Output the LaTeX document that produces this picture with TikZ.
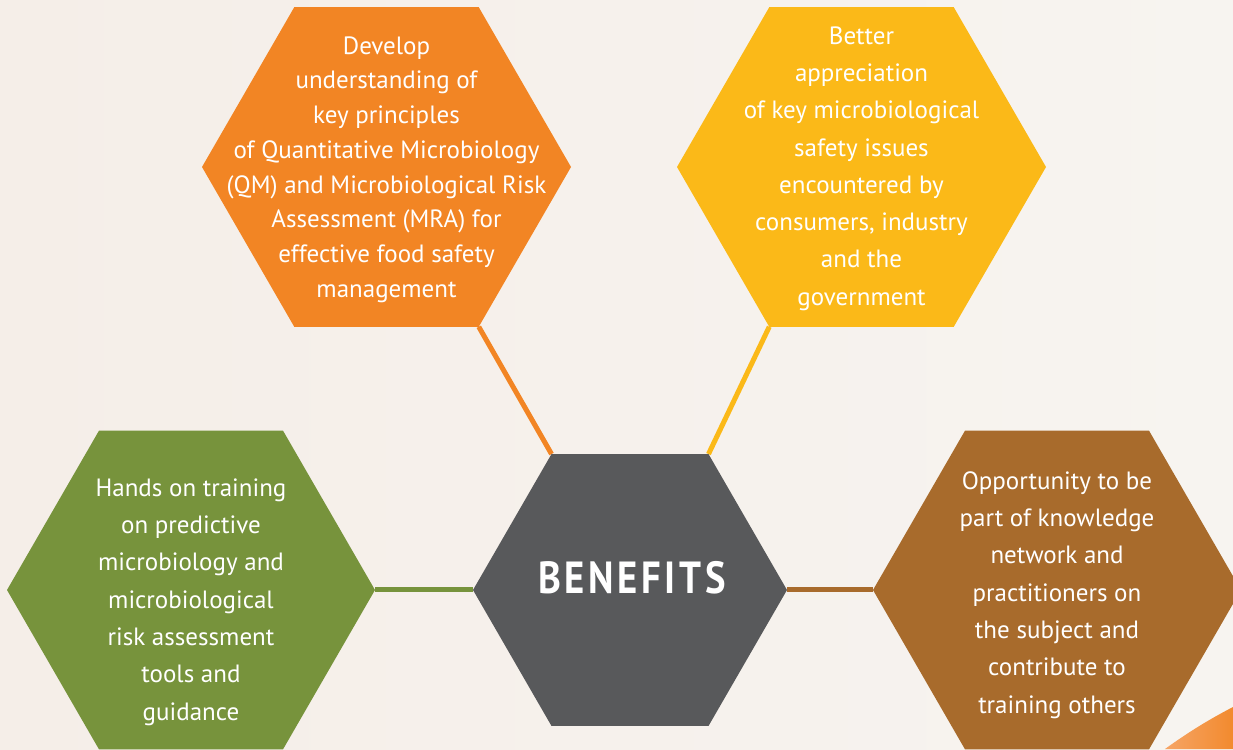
\documentclass[tikz,border=0pt]{standalone}
\usepackage{fontspec}
\setmainfont{PT Sans}
\newfontfamily\benfont{PT Sans}[FakeStretch=0.86,LetterSpace=8]
\usetikzlibrary{shapes.geometric}
\definecolor{bgA}{HTML}{F5EEE8}
\definecolor{bgB}{HTML}{F7F4F0}
\definecolor{hexorange}{HTML}{F28524}
\definecolor{hexyellow}{HTML}{FBB918}
\definecolor{hexgray}{HTML}{58595B}
\definecolor{hexgreen}{HTML}{77933C}
\definecolor{hexbrown}{HTML}{A86B2C}
\definecolor{swA}{HTML}{F6A566}
\definecolor{swB}{HTML}{F28A2E}
\pgfdeclarelayer{bg}
\pgfdeclarelayer{lines}
\pgfsetlayers{bg,lines,main}
\tikzset{
  hex/.style={regular polygon, regular polygon sides=6, inner sep=0pt, outer sep=0pt, draw=none, minimum size=#1},
  hextext/.style={align=center, text=white, inner sep=0pt},
  link/.style={line width=5pt}
}
\begin{document}
\begin{tikzpicture}[x=1pt,y=1pt]
\clip (0,0) rectangle (1233,749);
\begin{pgfonlayer}{bg}
\shade[left color=bgA, right color=bgB] (0,0) rectangle (1233,749);
\shade[left color=swA, right color=swB] (1165,0) .. controls (1190,18) and (1210,30) .. (1233,42) -- (1233,0) -- cycle;
\end{pgfonlayer}
% hexagons
\node[hex=314, fill=hexgray] (g) at (630,159) {};
\node[hex=369, fill=hexorange] (o) at (386.5,582) {};
\node[hex=369, fill=hexyellow] (y) at (861.5,582) {};
\node[hex=368, fill=hexgreen] (gr) at (191,159) {};
\node[hex=368, fill=hexbrown] (b) at (1057,159) {};
% connectors
\begin{pgfonlayer}{lines}
\draw[link, hexorange] (o.-60) -- (g.120);
\draw[link, hexyellow] (y.-120) -- (g.60);
\draw[link, hexgreen] (gr.0) -- (g.180);
\draw[link, hexbrown] (b.180) -- (g.0);
\end{pgfonlayer}
% texts
\node[hextext, font=\fontsize{25}{34.7}\selectfont] (ot) at (386.5,579.5) {Develop\\understanding of\\key principles\\of Quantitative Microbiology\\(QM) and Microbiological Risk\\Assessment (MRA) for\\effective food safety\\management};
\node[hextext, font=\fontsize{25}{37.3}\selectfont] (yt) at (861.5,580.5) {Better\\appreciation\\of key microbiological\\safety issues\\encountered by\\consumers, industry\\and the\\government};
\node[hextext, font=\fontsize{25}{37.3}\selectfont] (grt) at (191,147) {Hands on training\\on predictive\\microbiology and\\microbiological\\risk assessment\\tools and\\guidance};
\node[hextext, font=\fontsize{25}{37.3}\selectfont] (bt) at (1057,154) {Opportunity to be\\part of knowledge\\network and\\practitioners on\\the subject and\\contribute to\\training others};
\node[text=white, inner sep=0pt, font=\benfont\bfseries\fontsize{45}{50}\selectfont] (gt) at (632,171) {BENEFITS};
\end{tikzpicture}
\end{document}
